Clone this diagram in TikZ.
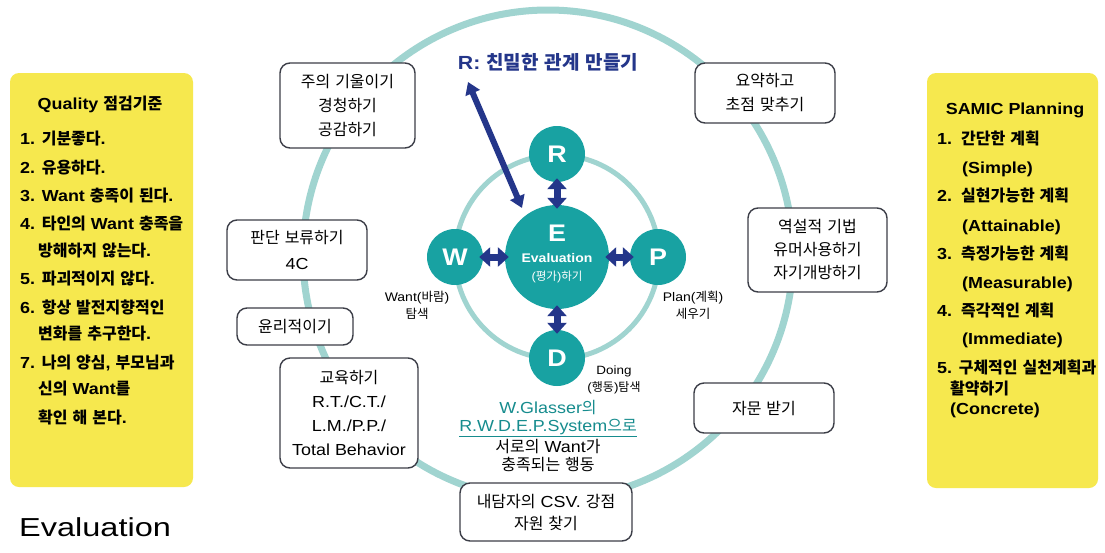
\documentclass[tikz,border=0pt]{standalone}
\usepackage{fontspec}
\setmainfont{Liberation Sans}[FakeStretch=1.12]
\newfontfamily\kr{Noto Sans CJK KR}
\newfontfamily\evalfont{Liberation Sans}[FakeStretch=1.25]
\usetikzlibrary{arrows.meta}
% automatic switch to the Korean font for Hangul syllables
\newcount\hgcnt
\newXeTeXintercharclass\hgclass
\hgcnt="AC00
\loop
  \XeTeXcharclass\hgcnt=\hgclass
  \advance\hgcnt by 1
\ifnum\hgcnt<"D7A4
\repeat
\XeTeXinterchartoks 0 \hgclass = {\kr}
\XeTeXinterchartoks 4095 \hgclass = {\kr}
\XeTeXinterchartoks \hgclass 0 = {\rmfamily}
\XeTeXinterchartoks \hgclass 4095 = {\rmfamily}
\XeTeXinterchartokenstate=1
\definecolor{ringc}{RGB}{160,212,208}
\definecolor{teal1}{RGB}{24,162,162}
\definecolor{navy}{RGB}{36,54,138}
\definecolor{boxline}{RGB}{60,62,72}
\definecolor{yel}{RGB}{246,232,78}
\definecolor{tealtxt}{RGB}{22,140,142}
\begin{document}
\begin{tikzpicture}[x=1pt,y=-1pt,
  box/.style={draw=boxline, line width=1.4pt, rounded corners=10pt, fill=white, align=center, inner sep=0pt, font=\fontsize{16}{24}\selectfont},
  ybox/.style={fill=yel, rounded corners=9pt, inner sep=0pt},
  ytxt/.style={anchor=base west, inner sep=0pt, font=\fontsize{16}{20}\selectfont\bfseries},
  disc/.style={circle, fill=teal1, inner sep=0pt, text=white, font=\fontsize{24}{24}\selectfont\bfseries},
  link/.style={draw=navy, line width=7pt, {Triangle[width=19pt,length=11pt]}-{Triangle[width=19pt,length=11pt]}},
  lbl/.style={align=center, inner sep=0pt, font=\fontsize{12.5}{17}\selectfont},
]
\fill[white] (0,0) rectangle (1105,552);
\useasboundingbox (0,0) rectangle (1105,552);

% yellow panels
\node[ybox, minimum width=183pt, minimum height=414pt] (qbox) at (101.5,280) {};
\node[ybox, minimum width=171pt, minimum height=415pt] (sbox) at (1012.5,280.5) {};

% rings
\draw[ringc, line width=7pt] (548,255) circle[radius=245];
\draw[ringc, line width=5pt] (557,257) circle[radius=102];

% discs
\node[disc, minimum size=104pt] (E) at (557,257) {};
\node[disc, minimum size=56pt] (R) at (557,154) {R};
\node[disc, minimum size=56pt] (W) at (455,257) {W};
\node[disc, minimum size=56pt] (P) at (658,257) {P};
\node[disc, minimum size=56pt] (D) at (557,358) {D};
\node[text=white, inner sep=0pt, font=\fontsize{24}{24}\selectfont\bfseries] (Eltr) at (557,233) {E};
\node[text=white, inner sep=0pt, font=\fontsize{12.5}{14}\selectfont\bfseries] (Eeval) at (557,258) {Evaluation};
\node[text=white, inner sep=0pt, font=\fontsize{11.5}{14}\selectfont] (Ekr) at (557,277) {(평가)하기};

% links
\draw[link, shorten <=-4pt, shorten >=-4pt] (E) -- (R);
\draw[link, shorten <=-4pt, shorten >=-4pt] (E) -- (W);
\draw[link, shorten <=-4pt, shorten >=-4pt] (E) -- (P);
\draw[link, shorten <=-4pt, shorten >=-4pt] (E) -- (D);

% R label and long arrow
\node[inner sep=0pt, font=\fontsize{19}{19}\selectfont\bfseries, text=navy] (rlabel) at (548,62) {R: 친밀한 관계 만들기};
\coordinate (rtip) at (468,82);
\coordinate (etip) at (522,208);
\draw[navy, line width=6pt, {Triangle[width=15pt,length=12pt]}-{Triangle[width=15pt,length=12pt]}] (rtip) -- (etip);

% small labels
\node[lbl] (wantlbl) at (417,305) {Want(바람)\\탐색};
\node[lbl] (planlbl) at (693,305) {Plan(계획)\\세우기};
\node[lbl, font=\fontsize{12}{17}\selectfont] (doinglbl) at (614,380) {Doing\\(행동)탐색};

% central texts
\node[align=center, inner sep=0pt, font=\fontsize{16}{18}\selectfont, text=tealtxt] (glasser) at (548,419) {W.Glasser의\\\underline{R.W.D.E.P.System으로}};
\node[align=center, inner sep=0pt, font=\fontsize{16}{18}\selectfont] (want2) at (548,456) {서로의 Want가\\충족되는 행동};

% boxes
\node[box, minimum width=135pt, minimum height=85pt] (b1) at (347.5,105.5) {주의 기울이기\\경청하기\\공감하기};
\node[box, minimum width=140pt, minimum height=60pt] (b2) at (765,93) {요약하고\\초점 맞추기};
\node[box, minimum width=140pt, minimum height=60pt, font=\fontsize{16}{26}\selectfont] (b3) at (297,250) {판단 보류하기\\4C};
\node[box, minimum width=116pt, minimum height=37pt] (b4) at (295,326.5) {윤리적이기};
\node[box, minimum width=138pt, minimum height=110pt] (b5) at (349,413) {교육하기\\R.T./C.T./\\L.M./P.P./\\Total Behavior};
\node[box, minimum width=139pt, minimum height=84pt, font=\fontsize{16}{23}\selectfont] (b6) at (817.5,250) {역설적 기법\\유머사용하기\\자기개방하기};
\node[box, minimum width=140pt, minimum height=50pt] (b7) at (764,408) {자문 받기};
\node[box, minimum width=172pt, minimum height=58pt, font=\fontsize{16}{22}\selectfont] (b8) at (546,512) {내담자의 CSV. 강점\\자원 찾기};

% Evaluation title
\node[anchor=west, inner sep=0pt, font=\evalfont\fontsize{26}{26}\selectfont] (evaltitle) at (19,527) {Evaluation};

% left panel text
\node[ytxt, anchor=base] (qtitle) at (100,109) {Quality 점검기준};
\node[ytxt] (q1) at (20,144) {1. 기분좋다.};
\node[ytxt] (q2) at (20,173) {2. 유용하다.};
\node[ytxt] (q3) at (20,201) {3. Want 충족이 된다.};
\node[ytxt] (q4) at (20,229) {4. 타인의 Want 충족을};
\node[ytxt] (q4b) at (38,256) {방해하지 않는다.};
\node[ytxt] (q5) at (20,284) {5. 파괴적이지 않다.};
\node[ytxt] (q6) at (20,313) {6. 항상 발전지향적인};
\node[ytxt] (q6b) at (38,339) {변화를 추구한다.};
\node[ytxt] (q7) at (20,368) {7. 나의 양심, 부모님과};
\node[ytxt] (q7b) at (38,394) {신의 Want를};
\node[ytxt] (q7c) at (38,423) {확인 해 본다.};

% right panel text
\node[ytxt, anchor=base] (stitle) at (1015,114) {SAMIC Planning};
\node[ytxt] (s1) at (937,144) {1.\hspace{9pt}간단한 계획};
\node[ytxt] (s1b) at (962,173) {(Simple)};
\node[ytxt] (s2) at (937,201) {2.\hspace{9pt}실현가능한 계획};
\node[ytxt] (s2b) at (962,231) {(Attainable)};
\node[ytxt] (s3) at (937,259) {3.\hspace{9pt}측정가능한 계획};
\node[ytxt] (s3b) at (962,288) {(Measurable)};
\node[ytxt] (s4) at (937,316) {4.\hspace{9pt}즉각적인 계획};
\node[ytxt] (s4b) at (962,344) {(Immediate)};
\node[ytxt] (s5) at (937,373) {5. 구체적인 실천계획과};
\node[ytxt] (s5b) at (950,394) {활약하기};
\node[ytxt] (s5c) at (950,414) {(Concrete)};
\end{tikzpicture}
\end{document}
